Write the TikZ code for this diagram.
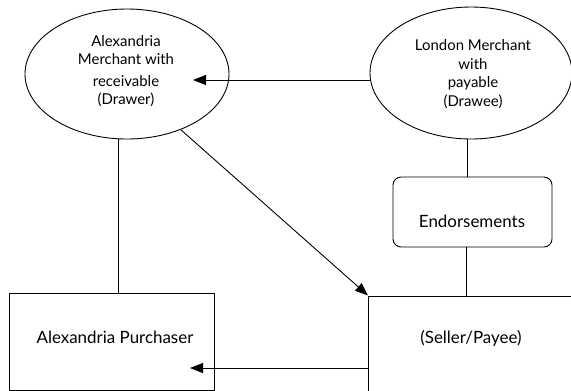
\documentclass[tikz,border=0pt]{standalone}
\usepackage{fontspec}
\setmainfont{Lato}
\usetikzlibrary{shapes.geometric,arrows.meta,calc}
\begin{document}
\begin{tikzpicture}[x=1bp,y=-1bp,
  line width=0.9bp,
  ell/.style={draw,ellipse,inner sep=0pt},
  lbl/.style={align=center,inner sep=0pt},
  boxtxt/.style={inner sep=0pt,font=\fontsize{17}{19}\selectfont},
  arr/.style={-{Triangle[length=13bp,width=10bp]}}]
\clip (0,0) rectangle (571,390);
\fill[white] (0,0) rectangle (571,390);
% ellipses
\node[ell,minimum width=204bp,minimum height=130bp] (L) at (127,74) {};
\node[lbl,font=\fontsize{15}{18}\selectfont] (Lt) at (126,71) {Alexandria\\Merchant with\\[4bp]receivable\\(Drawer)};
\node[ell,minimum width=202bp,minimum height=132bp] (R) at (471,73) {};
\node[lbl,font=\fontsize{15}{18.5}\selectfont] (Rt) at (473,74) {London Merchant\\with\\payable\\(Drawee)};
% boxes
\node[draw,rounded corners=8bp,minimum width=159bp,minimum height=70bp] (E) at (472.5,212) {};
\node[boxtxt] (Et) at (472,221) {Endorsements};
\node[draw,minimum width=205bp,minimum height=97bp] (P) at (111.5,341.5) {};
\node[boxtxt] (Pt) at (115,337) {Alexandria Purchaser};
\node[draw,minimum width=230bp,minimum height=120bp,anchor=north west] (S) at (368,295.5) {};
\node[boxtxt] (St) at (471,338) {(Seller/Payee)};
% helper coordinates
\coordinate (t1) at (193,80);
\coordinate (t2) at (190,368);
\coordinate (v1) at (118,0);
\coordinate (v2) at (467,0);
\coordinate (v3) at (466,0);
% connectors
\draw[arr] (R.west |- t1) -- (t1);
\draw (v1 |- L.south) -- (v1 |- P.north);
\draw[arr] (L.-46) -- (S.north west);
\draw (v2 |- R.south) -- (v2 |- E.north);
\draw (v3 |- E.south) -- (v3 |- S.north);
\draw[arr] (S.west |- t2) -- (t2);
\end{tikzpicture}
\end{document}
